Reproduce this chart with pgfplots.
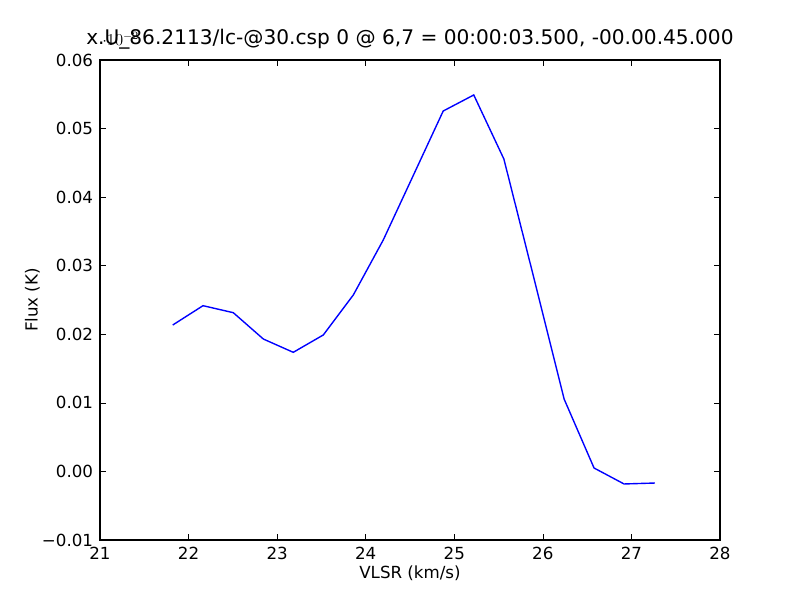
\documentclass[border=0pt]{standalone}
\usepackage{pgfplots}
\pgfplotsset{compat=1.18}
\usepackage{fontspec}
\setmainfont{DejaVu Sans}
\begin{document}
\begin{tikzpicture}
\path[use as bounding box] (-72bp,-43.2bp) rectangle (504bp,388.8bp);
\begin{axis}[
  at={(0,0)}, anchor=south west,
  scale only axis, width=446.4bp, height=345.6bp,
  xmin=21, xmax=28, ymin=-0.01, ymax=0.06,
  xtick={21,22,23,24,25,26,27,28},
  xticklabels={21,22,23,24,25,26,27,28},
  ytick={-0.01,0,0.01,0.02,0.03,0.04,0.05,0.06},
  yticklabels={−0.01,0.00,0.01,0.02,0.03,0.04,0.05,0.06},
  tick align=inside, major tick length=4bp,
  every tick/.style={black, line width=0.5bp},
  axis line style={line width=1bp},
  tick label style={font=\fontsize{12bp}{14bp}\selectfont},
  xticklabel style={anchor=north, yshift=-1.5bp},
  yticklabel style={anchor=east, xshift=-1.5bp},
  title={x.U\_86.2113/lc-@30.csp 0 @ 6,7 = 00:00:03.500, -00.00.45.000},
  title style={at={(axis description cs:0.5,1.0145)}, anchor=base, font=\fontsize{14.5bp}{17bp}\selectfont},
  xlabel={VLSR (km/s)},
  xlabel style={at={(axis description cs:0.5,-0.0796)}, anchor=base, font=\fontsize{12bp}{14bp}\selectfont},
  ylabel={Flux (K)},
  ylabel style={at={(axis description cs:-0.1008,0.5)}, anchor=base, rotate=0, font=\fontsize{12bp}{14bp}\selectfont},
  clip=false,
]
\addplot[color={rgb,1:red,0;green,0;blue,1}, line width=1bp, mark=none] coordinates {
(21.821,0.02135)
(22.163,0.02417)
(22.505,0.02315)
(22.844,0.01931)
(23.182,0.01737)
(23.521,0.01990)
(23.860,0.02573)
(24.198,0.03375)
(24.537,0.04316)
(24.875,0.05256)
(25.220,0.05490)
(25.560,0.04556)
(25.900,0.02814)
(26.240,0.01056)
(26.578,0.00050)
(26.917,-0.00183)
(27.266,-0.00169)
};
\end{axis}
\end{tikzpicture}
\end{document}
